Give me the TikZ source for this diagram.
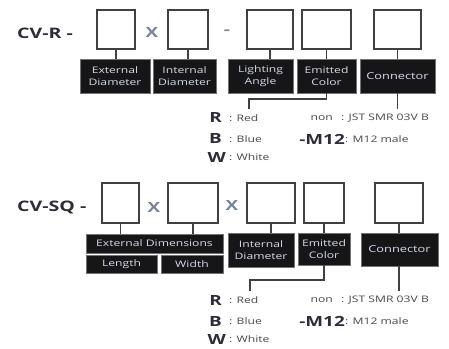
\documentclass[tikz,border=0pt]{standalone}
\usepackage{fontspec}
\setmainfont{Open Sans}[FakeStretch=1.35]
\usetikzlibrary{positioning,calc}
\definecolor{tagblack}{RGB}{22,22,24}
\definecolor{tagtext}{RGB}{215,220,234}
\definecolor{codeink}{RGB}{45,45,58}
\definecolor{crossgray}{RGB}{120,132,150}
\definecolor{notegray}{RGB}{70,70,80}

\begin{document}
\begin{tikzpicture}[x=1pt, y=-1pt,
    slot/.style={draw=black!75, line width=1.2pt, fill=white,
                 minimum height=39pt, inner sep=0},
    tag/.style={fill=tagblack, draw=black!55, text=tagtext, align=center,
                inner sep=0, minimum height=34pt,
                font=\fontsize{9}{11.5}\selectfont},
    link/.style={draw=black!75, line width=1.2pt},
    code/.style={font=\bfseries\fontsize{14.5}{14.5}\selectfont, text=codeink,
                 inner sep=0, anchor=west},
    cross/.style={font=\bfseries\fontsize{14}{14}\selectfont, text=crossgray},
    key/.style={font=\bfseries\fontsize{14}{14}\selectfont, text=codeink,
                inner sep=0, anchor=east},
    note/.style={font=\fontsize{9}{9}\selectfont, text=notegray,
                 inner sep=0, anchor=west}
  ]
  \useasboundingbox (0,0) rectangle (449,348);

  % CV-R row
  \node[code] (rcode) at (17,33) {CV-R\hspace{5pt}-};
  \node[cross] (rx) at (152,33) {X};
  \node[cross] (rdash) at (227,32) {-};
  \foreach \n/\cx/\w in {1/116/38, 2/188/40, 3/270/46, 4/326.5/49, 5/397.5/47}{
    \node[slot, minimum width=\w pt] (r\n) at (\cx,29.5) {};
  }
  \foreach \n/\cx/\w/\txt in {1/115/70/{External\\Diameter}, 2/184.5/63/{Internal\\Diameter},
      3/260.5/65/{Lighting\\Angle}, 4/326.5/59/{Emitted\\Color}}{
    \node[tag, minimum width=\w pt] (t\n) at (\cx,76) {\txt};
  }
  \node[tag, minimum width=75pt, font=\fontsize{9.5}{9.5}\selectfont] (t5) at (397.5,76) {Connector};
  \foreach \n in {1,...,5}{
    \draw[link] (r\n.south) -- (r\n.south |- t\n.north);
  }

  % colour and connector keys
  \node[key] (kr1) at (222,118) {R};
  \node[key] (kb1) at (222,139) {B};
  \node[key] (kw1) at (226,157) {W};
  \node[note] (nr1) at (229,118) {: Red};
  \node[note] (nb1) at (229,139) {: Blue};
  \node[note] (nw1) at (229,157) {: White};
  \node[note, anchor=east] (non1) at (333,118) {non};
  \node[note] (jst1) at (341,118) {: JST SMR 03V B};
  \node[key] (m1) at (345,139) {-M12};
  \node[note] (mm1) at (345,139) {: M12 male};

  \coordinate (rbend) at (249,99);
  \coordinate (rtap) at (249,109);
  \draw[link] (t4.south) |- (rbend) -- (rtap);
  \draw[link] (r5.south |- t5.south) -- (r5.south |- rtap);

  % CV-SQ row
  \node[code] (scode) at (17,207) {CV-SQ\hspace{5pt}-};
  \node[cross] (sx1) at (154,207) {X};
  \node[cross] (sx2) at (232,205) {X};
  \foreach \n/\cx/\w in {1/120.5/37, 2/193/50, 3/271/48, 4/324/40, 5/399/48}{
    \node[slot, minimum width=\w pt, minimum height=40pt] (s\n) at (\cx,203) {};
  }
  \node[tag, minimum width=137pt, minimum height=19pt] (ext) at (154.5,243.5) {External Dimensions};
  \node[tag, minimum width=71pt, minimum height=18pt] (len) at (121.5,264) {Length};
  \node[tag, minimum width=62pt, minimum height=18pt] (wid) at (192,264) {Width};
  \node[tag, minimum width=66pt] (u3) at (261,250) {Internal\\Diameter};
  \node[tag, minimum width=52pt, minimum height=32pt] (u4) at (324,249) {Emitted\\Color};
  \node[tag, minimum width=77pt, minimum height=33pt, font=\fontsize{9.5}{9.5}\selectfont] (u5) at (399.5,249.5) {Connector};
  \draw[link] (s1.south) -- (s1.south |- ext.north);
  \draw[link] (s2.south) -- (s2.south |- ext.north);
  \foreach \n in {3,4,5}{
    \draw[link] (s\n.south) -- (s\n.south |- u\n.north);
  }

  \node[key] (kr2) at (222,300) {R};
  \node[key] (kb2) at (222,321) {B};
  \node[key] (kw2) at (226,339) {W};
  \node[note] (nr2) at (229,300) {: Red};
  \node[note] (nb2) at (229,321) {: Blue};
  \node[note] (nw2) at (229,339) {: White};
  \node[note, anchor=east] (non2) at (333,300) {non};
  \node[note] (jst2) at (341,300) {: JST SMR 03V B};
  \node[key] (m2) at (345,321) {-M12};
  \node[note] (mm2) at (345,321) {: M12 male};

  \coordinate (sbend) at (250,280);
  \coordinate (stap) at (250,291);
  \draw[link] (u4.south) |- (sbend) -- (stap);
  \draw[link] (s5.south |- u5.south) -- (s5.south |- stap);
\end{tikzpicture}
\end{document}
